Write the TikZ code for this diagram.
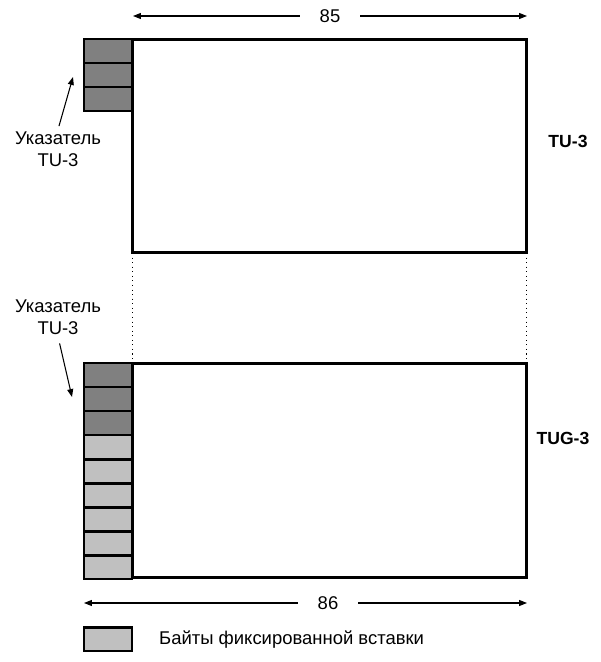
\documentclass[tikz,border=0pt]{standalone}
\usepackage{fontspec}
\setmainfont{Liberation Sans}
\usetikzlibrary{arrows.meta}

\definecolor{ptrgray}{gray}{0.5}
\definecolor{fixgray}{gray}{0.753}

\begin{document}
\begin{tikzpicture}[x=0.02cm, y=-0.02cm, >={Triangle[length=4.5pt, width=3.4pt]},
  font=\fontsize{10.5}{12.5}\selectfont,
  frame/.style={draw, line width=1.7pt, minimum width=7.9cm, inner sep=0pt, outer sep=0pt},
  cell/.style={draw, line width=1.7pt, minimum width=0.96cm, minimum height=0.48cm, inner sep=0pt, outer sep=0pt},
  dim/.style={->, line width=0.6pt},
  lbl/.style={align=center, inner sep=1pt}]

\useasboundingbox (0,0) rectangle (600,662);

% TU-3 and TUG-3 frames
\node[frame, minimum height=4.28cm] (tu)  at (329.5,146)   {};
\node[frame, minimum height=4.30cm] (tug) at (329.5,470.5) {};
\node[font=\fontsize{10}{12}\selectfont\bfseries] (tuname)  at (568,141) {TU-3};
\node[font=\fontsize{10}{12}\selectfont\bfseries] (tugname) at (563,438) {TUG-3};

% pointer bytes (dark) and fixed stuff bytes (light)
\foreach \i in {0,1,2} {
  \node[cell, fill=ptrgray] (p\i) at (108,51+24*\i) {};
  \node[cell, fill=ptrgray] (q\i) at (108,375+24*\i) {};
}
\foreach \i in {3,...,8}
  \node[cell, fill=fixgray] (q\i) at (108,375+24*\i) {};

% projection of TU-3 onto TUG-3
\draw[dotted, line width=0.6pt] (tu.south west) -- (tug.north west);
\draw[dotted, line width=0.6pt] (tu.south east) -- (tug.north east);

% pointer labels
\node[lbl] (ptr1) at (58,149) {Указатель\\TU-3};
\node[lbl] (ptr2) at (58,317) {Указатель\\TU-3};
\coordinate (tip1) at (73,77);
\coordinate (tip2) at (72,397);
\draw[dim, shorten <=2pt] (ptr1.north) -- (tip1);
\draw[dim, shorten <=4pt] (ptr2.south) -- (tip2);

% width dimensions
\node[minimum width=1.2cm] (w85) at (330,16) {85};
\coordinate (w85l) at (133,16);
\coordinate (w85r) at (527,16);
\draw[dim] (w85) -- (w85l);
\draw[dim] (w85) -- (w85r);

\node[minimum width=1.2cm] (w86) at (328,603) {86};
\coordinate (w86l) at (84,603);
\coordinate (w86r) at (527,603);
\draw[dim] (w86) -- (w86l);
\draw[dim] (w86) -- (w86r);

% legend
\node[cell, fill=fixgray] (key) at (108,639) {};
\node[anchor=west] (keytext) at (153,640) {Байты фиксированной вставки};

\end{tikzpicture}
\end{document}
